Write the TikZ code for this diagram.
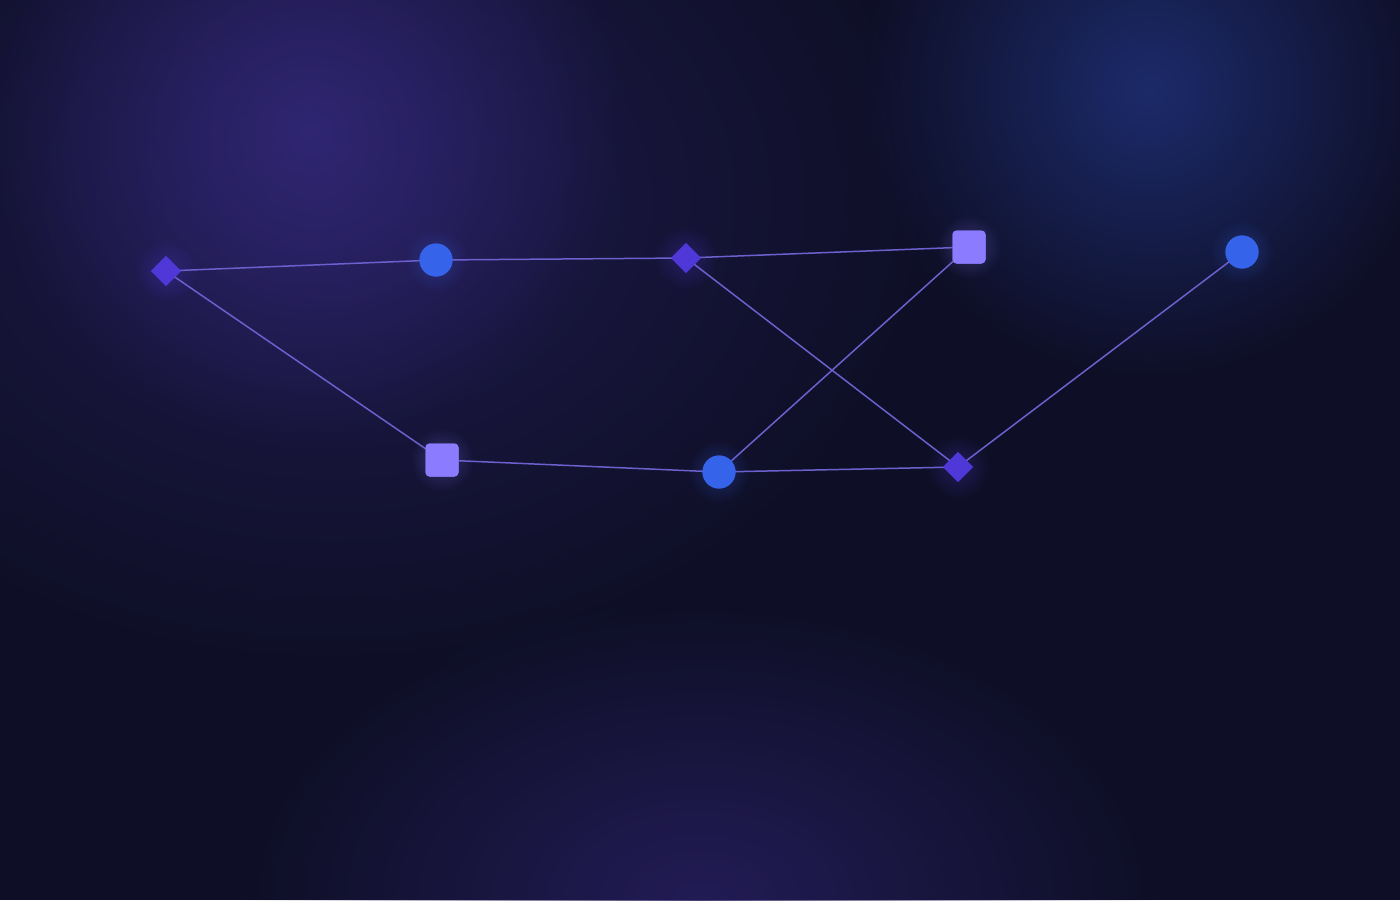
\documentclass[tikz,border=0pt]{standalone}
\usetikzlibrary{fadings,shapes.geometric}
\definecolor{bgbase}{HTML}{0E0F26}
\definecolor{glowpurple}{HTML}{33287A}
\definecolor{glowblue}{HTML}{1D2C6E}
\definecolor{glowbottom}{HTML}{261E5E}
\definecolor{circblue}{HTML}{3563E9}
\definecolor{sqviolet}{HTML}{8B7BFF}
\definecolor{diaindigo}{HTML}{5038D8}
\definecolor{edgecol}{HTML}{6C60CE}
\tikzfading[name=softglow, inner color=transparent!0, outer color=transparent!100]
\tikzset{
  glow/.style={path fading=softglow, fill=#1},
  circnode/.style={circle, fill=circblue, minimum size=33pt, inner sep=0pt, draw=none},
  sqnode/.style={rectangle, rounded corners=4pt, fill=sqviolet, minimum size=33pt, inner sep=0pt, draw=none},
  dianode/.style={diamond, fill=diaindigo, minimum size=30pt, inner sep=0pt, draw=none},
  link/.style={draw=edgecol, line width=1.5pt},
}
\begin{document}
\begin{tikzpicture}[x=1pt,y=-1pt]
\useasboundingbox (0,0) rectangle (1400,900);
\fill[bgbase] (0,0) rectangle (1400,900);
% broad haze
\fill[glow=glowpurple, opacity=0.45] (330,200) ellipse (620 and 480);
\fill[glow=glowpurple, opacity=0.85] (310,130) circle (320);
\fill[glow=glowblue, opacity=0.95] (1150,90) circle (290);
\fill[glow=glowbottom, opacity=0.85] (700,900) ellipse (460 and 300);
% nodes
\node[dianode] (d1) at (166,271) {};
\node[circnode] (c1) at (436,260) {};
\node[dianode] (d2) at (686,258) {};
\node[sqnode] (s1) at (969,247) {};
\node[circnode] (c2) at (1242,252) {};
\node[sqnode] (s2) at (442,460) {};
\node[circnode] (c3) at (719,472) {};
\node[dianode] (d3) at (958,467) {};
% node glows
\foreach \p/\c in {d1/diaindigo,c1/circblue,d2/diaindigo,s1/sqviolet,c2/circblue,s2/sqviolet,c3/circblue,d3/diaindigo}{
  \fill[glow=\c, opacity=0.3] (\p) circle (32);
}
% edges
\draw[link] (d1.center) -- (c1.center);
\draw[link] (c1.center) -- (d2.center);
\draw[link] (d2.center) -- (s1.center);
\draw[link] (d1.center) -- (s2.center);
\draw[link] (s2.center) -- (c3.center);
\draw[link] (c3.center) -- (d3.center);
\draw[link] (d2.center) -- (d3.center);
\draw[link] (c3.center) -- (s1.center);
\draw[link] (d3.center) -- (c2.center);
% redraw nodes on top
\node[dianode] at (d1) {};
\node[circnode] at (c1) {};
\node[dianode] at (d2) {};
\node[sqnode] at (s1) {};
\node[circnode] at (c2) {};
\node[sqnode] at (s2) {};
\node[circnode] at (c3) {};
\node[dianode] at (d3) {};
\end{tikzpicture}
\end{document}
